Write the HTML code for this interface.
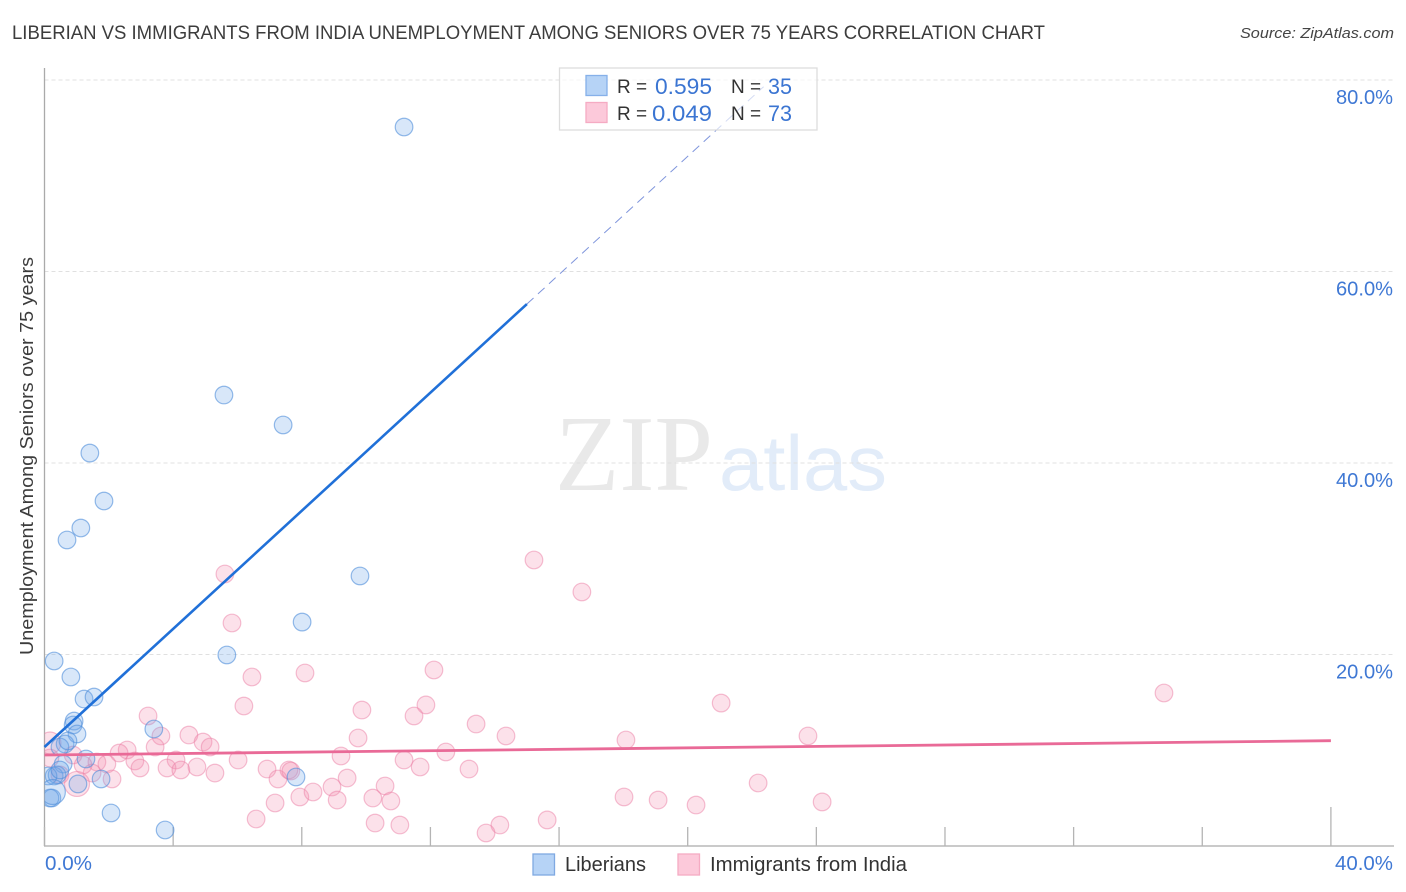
<!DOCTYPE html>
<html lang="en">
<head>
<meta charset="utf-8">
<title>Liberian vs Immigrants from India Unemployment Correlation Chart</title>
<style>
html,body{margin:0;padding:0;background:#fff;}
svg{display:block;font-family:"Liberation Sans",sans-serif;}
</style>
</head>
<body>
<svg id="chart" width="1406" height="892" viewBox="0 0 1406 892" xmlns="http://www.w3.org/2000/svg">
  <defs>
    <clipPath id="plot-clip"><rect x="44.5" y="60" width="1350" height="786"/></clipPath>
  </defs>
  <rect x="0" y="0" width="1406" height="892" fill="#ffffff"/>
  <text x="12" y="39" font-size="19.5" fill="#3c3c3c" textLength="1033" lengthAdjust="spacingAndGlyphs">LIBERIAN VS IMMIGRANTS FROM INDIA UNEMPLOYMENT AMONG SENIORS OVER 75 YEARS CORRELATION CHART</text>
  <text x="1394" y="38" font-size="15" font-style="italic" fill="#444444" text-anchor="end" textLength="154" lengthAdjust="spacingAndGlyphs">Source: ZipAtlas.com</text>
  <text transform="translate(33,456) rotate(-90)" font-size="18.5" fill="#3c3c3c" text-anchor="middle" textLength="398" lengthAdjust="spacingAndGlyphs">Unemployment Among Seniors over 75 years</text>
  <text x="555" y="490" font-family="'Liberation Serif',serif" font-size="108" fill="#e9e9e9" textLength="158" lengthAdjust="spacingAndGlyphs">ZIP</text>
  <text x="719" y="490" font-size="78" fill="#e2ecf9" textLength="168" lengthAdjust="spacingAndGlyphs">atlas</text>
  <g id="grid"></g>
  <g id="axes">
    <line x1="44.5" y1="68" x2="44.5" y2="846" stroke="#aaaaaa" stroke-width="1.3"/>
    <line x1="44" y1="846" x2="1394" y2="846" stroke="#aaaaaa" stroke-width="1.3"/>
  </g>
  <g id="ticks"></g>
  <g id="y-labels"></g>
  <g id="x-labels"></g>
  <g id="india-points" clip-path="url(#plot-clip)"></g>
  <g id="liberian-points" clip-path="url(#plot-clip)"></g>
  <g id="trends"></g>

  <g>
    <rect x="559.5" y="68" width="257.5" height="62" fill="#ffffff" fill-opacity="0.65" stroke="#dddddd" stroke-width="1.3"/>
    <rect x="586" y="75.5" width="21" height="20" fill="#b6d3f6" stroke="#86b0e9" stroke-width="1.3"/>
    <rect x="586" y="102.5" width="21" height="20" fill="#fcc9da" stroke="#f5abc3" stroke-width="1.3"/>
    <text x="617" y="93" font-size="19" fill="#333333">R =</text>
    <text x="655" y="94" font-size="22" fill="#3b75d2" textLength="57" lengthAdjust="spacingAndGlyphs">0.595</text>
    <text x="731" y="93" font-size="19" fill="#333333">N =</text>
    <text x="768" y="94" font-size="22" fill="#3b75d2" textLength="24" lengthAdjust="spacingAndGlyphs">35</text>
    <text x="617" y="120" font-size="19" fill="#333333">R =</text>
    <text x="652" y="121" font-size="22" fill="#3b75d2" textLength="60" lengthAdjust="spacingAndGlyphs">0.049</text>
    <text x="731" y="120" font-size="19" fill="#333333">N =</text>
    <text x="768" y="121" font-size="22" fill="#3b75d2" textLength="24" lengthAdjust="spacingAndGlyphs">73</text>
  </g>

  <g>
    <rect x="533" y="854" width="21.5" height="21" fill="#b6d3f6" stroke="#7fa9e2" stroke-width="1.3"/>
    <text x="565" y="871" font-size="20" fill="#333333" textLength="81" lengthAdjust="spacingAndGlyphs">Liberians</text>
    <rect x="678" y="854" width="21.5" height="21" fill="#fcc9da" stroke="#f5abc3" stroke-width="1.3"/>
    <text x="710" y="871" font-size="20" fill="#333333" textLength="197" lengthAdjust="spacingAndGlyphs">Immigrants from India</text>
  </g>
</svg>
<script>
const xTickValues = [0, 4, 8, 12, 16, 20, 24, 28, 32, 36, 40];
const yGridValues = [20, 40, 60, 80];
const yTickLabels = ['20.0%', '40.0%', '60.0%', '80.0%'];
const xEndValues = [0, 40];
const xEndLabels = ['0.0%', '40.0%'];

const liberianX = [11.18,5.58,7.42,1.41,1.85,1.13,0.70,9.81,8.01,5.67,0.30,0.82,1.23,1.54,0.92,0.89,1.01,3.40,1.29,0.64,0.48,0.58,0.30,0.39,1.76,1.04,0.23,2.07,3.75,7.82,0.11,0.17,0.73,0.48];
const liberianY = [75.09,47.10,43.97,41.04,36.03,33.21,31.96,28.20,23.39,19.95,19.32,17.65,15.35,15.56,13.05,12.64,11.70,12.22,9.09,10.65,10.34,8.56,7.31,7.42,7.00,6.48,5.01,3.45,1.67,7.21,7.31,5.01,10.97,7.94];
const liberianLargeX = [0.26];
const liberianLargeY = [5.64];

const indiaX = [15.22,16.71,5.61,5.83,12.11,6.45,8.10,34.81,6.20,21.04,11.86,9.87,11.49,3.22,13.42,4.49,3.62,14.35,9.75,18.08,23.74,4.93,5.15,3.44,2.57,2.32,9.22,12.48,11.18,4.09,6.02,2.81,1.63,1.94,2.97,3.81,4.24,4.74,6.92,11.68,13.20,5.30,2.10,9.41,10.59,7.26,7.60,7.66,8.94,22.19,7.94,8.35,9.10,10.21,10.77,18.02,19.08,20.26,24.18,6.58,7.17,10.28,11.05,15.63,14.16,13.73,0.17,0.89,1.48,0.48,1.20];
const indiaY = [29.87,26.53,28.41,23.29,18.38,17.65,18.07,15.98,14.62,14.93,14.73,14.20,13.58,13.58,12.74,11.59,11.49,11.49,11.28,11.07,11.49,10.86,10.34,10.34,10.03,9.71,9.40,9.82,8.98,8.98,8.98,8.88,8.77,8.56,8.15,8.15,7.94,8.25,8.04,8.25,8.04,7.62,7.00,7.10,6.27,7.00,7.94,7.83,6.16,6.58,5.12,5.64,4.80,5.01,4.70,5.12,4.80,4.28,4.60,2.82,4.49,2.40,2.19,2.72,2.19,1.36,9.19,9.50,7.62,7.42,8.46];
const indiaLargeX = [0.17, 1.01];
const indiaLargeY = [10.76, 6.48];

const liberianTrendX = [0, 15];
const liberianTrendY = [10.34, 56.6];
const liberianDashX = [15, 22.36];
const liberianDashY = [56.6, 79.3];
const indiaTrendX = [0, 40];
const indiaTrendY = [9.5, 11.0];

const NS = 'http://www.w3.org/2000/svg';
function sx(v) { return 44.5 + v * 32.16; }
function sy(v) { return 846 - v * 9.575; }
function make(tag, parentId, attrs) {
  const el = document.createElementNS(NS, tag);
  for (const k in attrs) el.setAttribute(k, attrs[k]);
  document.getElementById(parentId).appendChild(el);
  return el;
}

yGridValues.forEach(function (v) {
  const el = make('line', 'grid', {x1: 44.5, x2: 1394, y1: sy(v), y2: sy(v), stroke: '#e0e0e0', 'stroke-width': 1, 'stroke-dasharray': '4 3'});
  
  
});

xTickValues.forEach(function (v, i) {
  const last = i === xTickValues.length - 1;
  const el = make('line', 'ticks', {x1: sx(v), x2: sx(v), y1: 846, y2: last ? 807 : 827, stroke: '#b4b4b4', 'stroke-width': 1.3});
  
  
});

yGridValues.forEach(function (v, i) {
  const el = make('text', 'y-labels', {x: 1393, y: sy(v) + 24, 'font-size': 20, fill: '#3f78d4', 'text-anchor': 'end', textLength: 57, lengthAdjust: 'spacingAndGlyphs'});
  el.textContent = yTickLabels[i];
  
  
});

xEndValues.forEach(function (v, i) {
  const el = make('text', 'x-labels', {x: i === 0 ? 45 : 1393, y: 870, 'font-size': 20, fill: '#3f78d4', 'text-anchor': i === 0 ? 'start' : 'end', textLength: i === 0 ? 47 : 58, lengthAdjust: 'spacingAndGlyphs'});
  el.textContent = xEndLabels[i];
  
  
});

function drawIndiaPoint(x, y, r) {
  const el = make('circle', 'india-points', {cx: sx(x), cy: sy(y), r: r, fill: '#f48fb1', 'fill-opacity': 0.27, stroke: '#ec7fa5', 'stroke-opacity': 0.5, 'stroke-width': 1.2});
  
  
}
function drawLiberianPoint(x, y, r) {
  const el = make('circle', 'liberian-points', {cx: sx(x), cy: sy(y), r: r, fill: '#6fa6ea', 'fill-opacity': 0.27, stroke: '#4f8edb', 'stroke-opacity': 0.6, 'stroke-width': 1.2});
  
  
}
indiaX.forEach(function (x, i) { drawIndiaPoint(x, indiaY[i], 8.8); });
indiaLargeX.forEach(function (x, i) { drawIndiaPoint(x, indiaLargeY[i], i === 0 ? 11 : 12.5); });
liberianX.forEach(function (x, i) { drawLiberianPoint(x, liberianY[i], 8.8); });
liberianLargeX.forEach(function (x, i) { drawLiberianPoint(x, liberianLargeY[i], 12.5); });

const indiaTrend = make('line', 'trends', {x1: sx(indiaTrendX[0]), y1: sy(indiaTrendY[0]), x2: sx(indiaTrendX[1]), y2: sy(indiaTrendY[1]), stroke: '#e96a97', 'stroke-width': 2.8});



const liberianTrend = make('line', 'trends', {x1: sx(liberianTrendX[0]), y1: sy(liberianTrendY[0]), x2: sx(liberianTrendX[1]), y2: sy(liberianTrendY[1]), stroke: '#2070d8', 'stroke-width': 2.6});



const liberianDash = make('line', 'trends', {x1: sx(liberianDashX[0]), y1: sy(liberianDashY[0]), x2: sx(liberianDashX[1]), y2: sy(liberianDashY[1]), stroke: '#7f95dc', 'stroke-width': 1, 'stroke-dasharray': '9 6'});


</script>
</body>
</html>
